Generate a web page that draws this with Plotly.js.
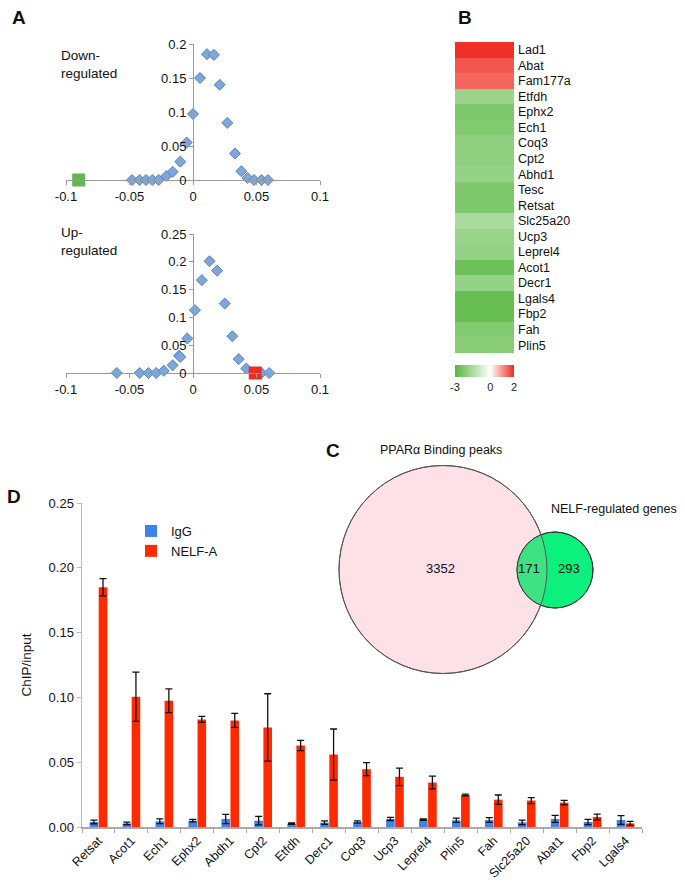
<!DOCTYPE html>
<html><head><meta charset="utf-8">
<script src="https://cdn.plot.ly/plotly-3.0.1.min.js"></script>
<style>html,body{margin:0;padding:0;background:#fff}</style>
</head><body><div id="chart" style="width:685px;height:887px"></div>
<script>
// ---------- Panel A data ----------
const downX = [-0.048,-0.042,-0.037,-0.032,-0.027,-0.021,-0.016,-0.010,-0.005,0.000,0.0055,0.011,0.0165,0.021,0.027,0.033,0.038,0.043,0.048,0.054,0.059];
const downY = [0,0,0,0,0,0.006,0.012,0.027,0.055,0.097,0.150,0.185,0.184,0.140,0.084,0.039,0.013,0.003,0,0,0];
const downMarkX = [-0.09];
const downMarkY = [0];
const upX = [-0.060,-0.042,-0.035,-0.029,-0.023,-0.016,-0.011,-0.010,-0.0045,0.0015,0.007,0.013,0.019,0.025,0.031,0.036,0.042,0.048,0.054,0.060];
const upY = [0,0,0,0,0.004,0.014,0.031,0.029,0.062,0.113,0.167,0.201,0.184,0.125,0.066,0.025,0.008,0,0,0];
const upMarkX = [0.049];
const upMarkY = [0];
const aTickVals = [-0.1,-0.05,0,0.05,0.1];
const aTickText = ['-0.1','-0.05','0','0.05','0.1'];

// ---------- Panel B data ----------
const genes = ['Lad1','Abat','Fam177a','Etfdh','Ephx2','Ech1','Coq3','Cpt2','Abhd1','Tesc','Retsat','Slc25a20','Ucp3','Leprel4','Acot1','Decr1','Lgals4','Fbp2','Fah','Plin5'];
const geneValues = [1.95,1.6,1.45,-1.8,-2.3,-2.2,-2.0,-2.0,-1.9,-2.3,-2.3,-1.5,-1.8,-1.9,-2.6,-1.9,-2.7,-2.7,-2.2,-2.1];
const cbTickVals = [-3,0,2];
const cbTickText = ['-3','0','2'];

// ---------- Panel C data ----------
const vennLabels = ['PPARα Binding peaks','NELF-regulated genes'];
const vennCounts = [3352,171,293];

// ---------- Panel D data ----------
const chipGenes = ['Retsat','Acot1','Ech1','Ephx2','Abdh1','Cpt2','Etfdh','Derc1','Coq3','Ucp3','Leprel4','Plin5','Fah','Slc25a20','Abat1','Fbp2','Lgals4'];
const iggVals = [0.0039,0.0028,0.0044,0.0049,0.0062,0.0049,0.0026,0.0034,0.0039,0.0062,0.0057,0.0052,0.0054,0.0036,0.0062,0.0039,0.0054];
const iggErr  = [0.0014,0.0010,0.0018,0.0010,0.0036,0.0033,0.0005,0.0014,0.0009,0.0012,0.0005,0.0017,0.0018,0.0017,0.0027,0.0020,0.0034];
const nelfVals = [0.185,0.1005,0.0974,0.083,0.0822,0.0768,0.0629,0.0559,0.0446,0.0387,0.0343,0.0247,0.0211,0.0204,0.0188,0.0077,0.0028];
const nelfErr  = [0.0067,0.019,0.0092,0.0023,0.0054,0.026,0.004,0.0197,0.005,0.0068,0.0049,0.0007,0.0036,0.0023,0.0018,0.0022,0.0015];

// ---------- helpers ----------
const W = 685, H = 887;
const px = v => v / W;
const py = v => 1 - v / H;
const FONT = 'Liberation Sans, Arial, Helvetica, sans-serif';
const diamond = {symbol:'diamond', size:8.5, color:'#7EA6D8', line:{color:'#5B86BE', width:1}};

const traces = [
  {type:'scatter', mode:'markers', x:downX, y:downY, xaxis:'x', yaxis:'y', marker:diamond, cliponaxis:false, showlegend:false},
  {type:'scatter', mode:'markers', x:downMarkX, y:downMarkY, xaxis:'x', yaxis:'y', marker:{symbol:'square', size:13, color:'#5DBB46'}, cliponaxis:false, showlegend:false},
  {type:'scatter', mode:'markers', x:upX, y:upY, xaxis:'x2', yaxis:'y2', marker:diamond, cliponaxis:false, showlegend:false},
  {type:'scatter', mode:'markers', x:upMarkX, y:upMarkY, xaxis:'x2', yaxis:'y2', marker:{symbol:'square', size:13, color:'#EE2A22'}, cliponaxis:false, showlegend:false},
  {type:'heatmap', x:['v'], y:genes, z:geneValues.map(v=>[v]), xaxis:'x3', yaxis:'y3',
   zmin:-3, zmax:2, colorscale:[[0,'#56B83E'],[0.6,'#FFFFFF'],[1,'#EE2B20']], showscale:true,
   colorbar:{orientation:'h', x:px(484.5), xanchor:'center', y:py(365), yanchor:'top', len:59, lenmode:'pixels',
     thickness:12, thicknessmode:'pixels', tickvals:cbTickVals, ticktext:cbTickText, ticks:'', outlinewidth:0,
     tickfont:{family:FONT, size:11, color:'#222'}, xpad:0, ypad:0}},
  {type:'bar', name:'IgG', x:chipGenes, y:iggVals, xaxis:'x4', yaxis:'y4', marker:{color:'#3F83E8'},
   error_y:{type:'data', array:iggErr, color:'#111', thickness:1.3, width:3.5}},
  {type:'bar', name:'NELF-A', x:chipGenes, y:nelfVals, xaxis:'x4', yaxis:'y4', marker:{color:'#FF2A00'},
   error_y:{type:'data', array:nelfErr, color:'#111', thickness:1.3, width:3.5}}
];

const aX = (dom) => ({domain:dom, range:[-0.1,0.1], tickvals:aTickVals, ticktext:aTickText, showline:true, linecolor:'#9a9a9a', linewidth:1,
  zeroline:false, showgrid:false, ticks:'outside', ticklen:4, tickcolor:'#9a9a9a', tickfont:{family:FONT,size:13,color:'#111'}});
const aY = (dom, top) => ({domain:dom, range:[0,top], dtick:0.05, anchor:'free', position:px(193), showline:true, linecolor:'#9a9a9a', linewidth:1,
  zeroline:false, showgrid:false, ticks:'outside', ticklen:4, tickcolor:'#9a9a9a', tickfont:{family:FONT,size:13,color:'#111'}});

// Venn geometry (pixels)
const bigC = {x:443, y:569.5, r:104};
const smC = {x:555, y:570, r:38};
function lensPath(){
  const d = smC.x - bigC.x;
  const a = (bigC.r*bigC.r - smC.r*smC.r + d*d)/(2*d);
  const h = Math.sqrt(bigC.r*bigC.r - a*a);
  const ang1 = Math.atan2(h, a), ang2 = Math.atan2(h, a - d);
  const pts = [];
  const n = 40;
  for(let i=0;i<=n;i++){ const t=-ang1+2*ang1*i/n; pts.push([bigC.x+bigC.r*Math.cos(t), bigC.y+bigC.r*Math.sin(t)]); }
  for(let i=0;i<=n;i++){ const t=ang2+(2*Math.PI-2*ang2)*i/n; pts.push([smC.x+smC.r*Math.cos(t), smC.y+smC.r*Math.sin(t)]); }
  return 'M' + pts.map(p=>px(p[0]).toFixed(5)+','+py(p[1]).toFixed(5)).join('L') + 'Z';
}
const circ = (c, fill, line) => ({type:'circle', xref:'paper', yref:'paper', x0:px(c.x-c.r), x1:px(c.x+c.r), y0:py(c.y+c.r), y1:py(c.y-c.r),
  fillcolor:fill, line:line, layer:'above'});

const shapes = [
  circ(bigC, '#FDE1E7', {color:'#555', width:1}),
  circ(smC, '#0CF07D', {color:'#333', width:1}),
  {type:'path', xref:'paper', yref:'paper', path:lensPath(), fillcolor:'#3DE283', line:{width:0}, layer:'above'},
  circ(smC, 'rgba(0,0,0,0)', {color:'#333', width:1}),
  circ(bigC, 'rgba(0,0,0,0)', {color:'#555', width:1})
];

const ann = (x,y,text,size,opts) => Object.assign({xref:'paper', yref:'paper', x:px(x), y:py(y), text:text, showarrow:false,
  font:{family:FONT, size:size, color:'#111'}, xanchor:'left', yanchor:'middle'}, opts||{});

const annotations = [
  ann(10,17,'<b>A</b>',19),
  ann(456,17,'<b>B</b>',19),
  ann(324,450,'<b>C</b>',19),
  ann(5,496,'<b>D</b>',19),
  ann(59,65,'Down-<br>regulated',13.5,{align:'left'}),
  ann(59,241,'Up-<br>regulated',13.5,{align:'left'}),
  ann(441,450,vennLabels[0],12.5,{xanchor:'center'}),
  ann(549,509,vennLabels[1],12.5),
  ann(440,568,String(vennCounts[0]),13,{xanchor:'center'}),
  ann(529,568,String(vennCounts[1]),13,{xanchor:'center'}),
  ann(569,568,String(vennCounts[2]),13,{xanchor:'center'})
];

const layout = {
  width:W, height:H, margin:{l:0,r:0,t:0,b:0}, paper_bgcolor:'#fff', plot_bgcolor:'rgba(0,0,0,0)',
  font:{family:FONT, color:'#111'},
  xaxis: Object.assign(aX([px(66),px(320)]), {anchor:'y'}),
  yaxis: aY([py(180),py(44)],0.2),
  xaxis2: Object.assign(aX([px(66),px(320)]), {anchor:'y2'}),
  yaxis2: aY([py(373),py(234)],0.25),
  xaxis3: {domain:[px(455),px(514)], anchor:'y3', visible:false, showgrid:false, zeroline:false},
  yaxis3: {domain:[py(353),py(42)], anchor:'x3', side:'right', autorange:'reversed', ticks:'', showline:false, showgrid:false, zeroline:false,
    ticklabelstandoff:3, tickfont:{family:FONT,size:12.5,color:'#111'}},
  xaxis4: {domain:[px(82),px(642)], anchor:'y4', type:'category', tickson:'boundaries', ticks:'outside', ticklen:4, tickcolor:'#aaa',
    showline:true, linecolor:'#aaa', linewidth:1.5, showgrid:false, tickangle:-45, tickfont:{family:FONT,size:12.5,color:'#111'}},
  yaxis4: {domain:[py(827),py(503)], anchor:'x4', range:[0,0.25], dtick:0.05, tickformat:'.2f', ticks:'outside', ticklen:4, tickcolor:'#bbb',
    showline:true, linecolor:'#bbb', linewidth:1.5, showgrid:false, zeroline:false, tickfont:{family:FONT,size:13,color:'#111'},
    title:{text:'ChIP/input', font:{family:FONT,size:13.5,color:'#111'}, standoff:14}},
  barmode:'group', bargap:0.45, bargroupgap:0.05,
  legend:{x:px(131), y:py(516), xanchor:'left', yanchor:'top', bgcolor:'rgba(0,0,0,0)', font:{family:FONT,size:13,color:'#111'}, itemwidth:30, tracegroupgap:4},
  shapes:shapes, annotations:annotations
};

Plotly.newPlot('chart', traces, layout, {displayModeBar:false, staticPlot:true});
</script></body></html>
